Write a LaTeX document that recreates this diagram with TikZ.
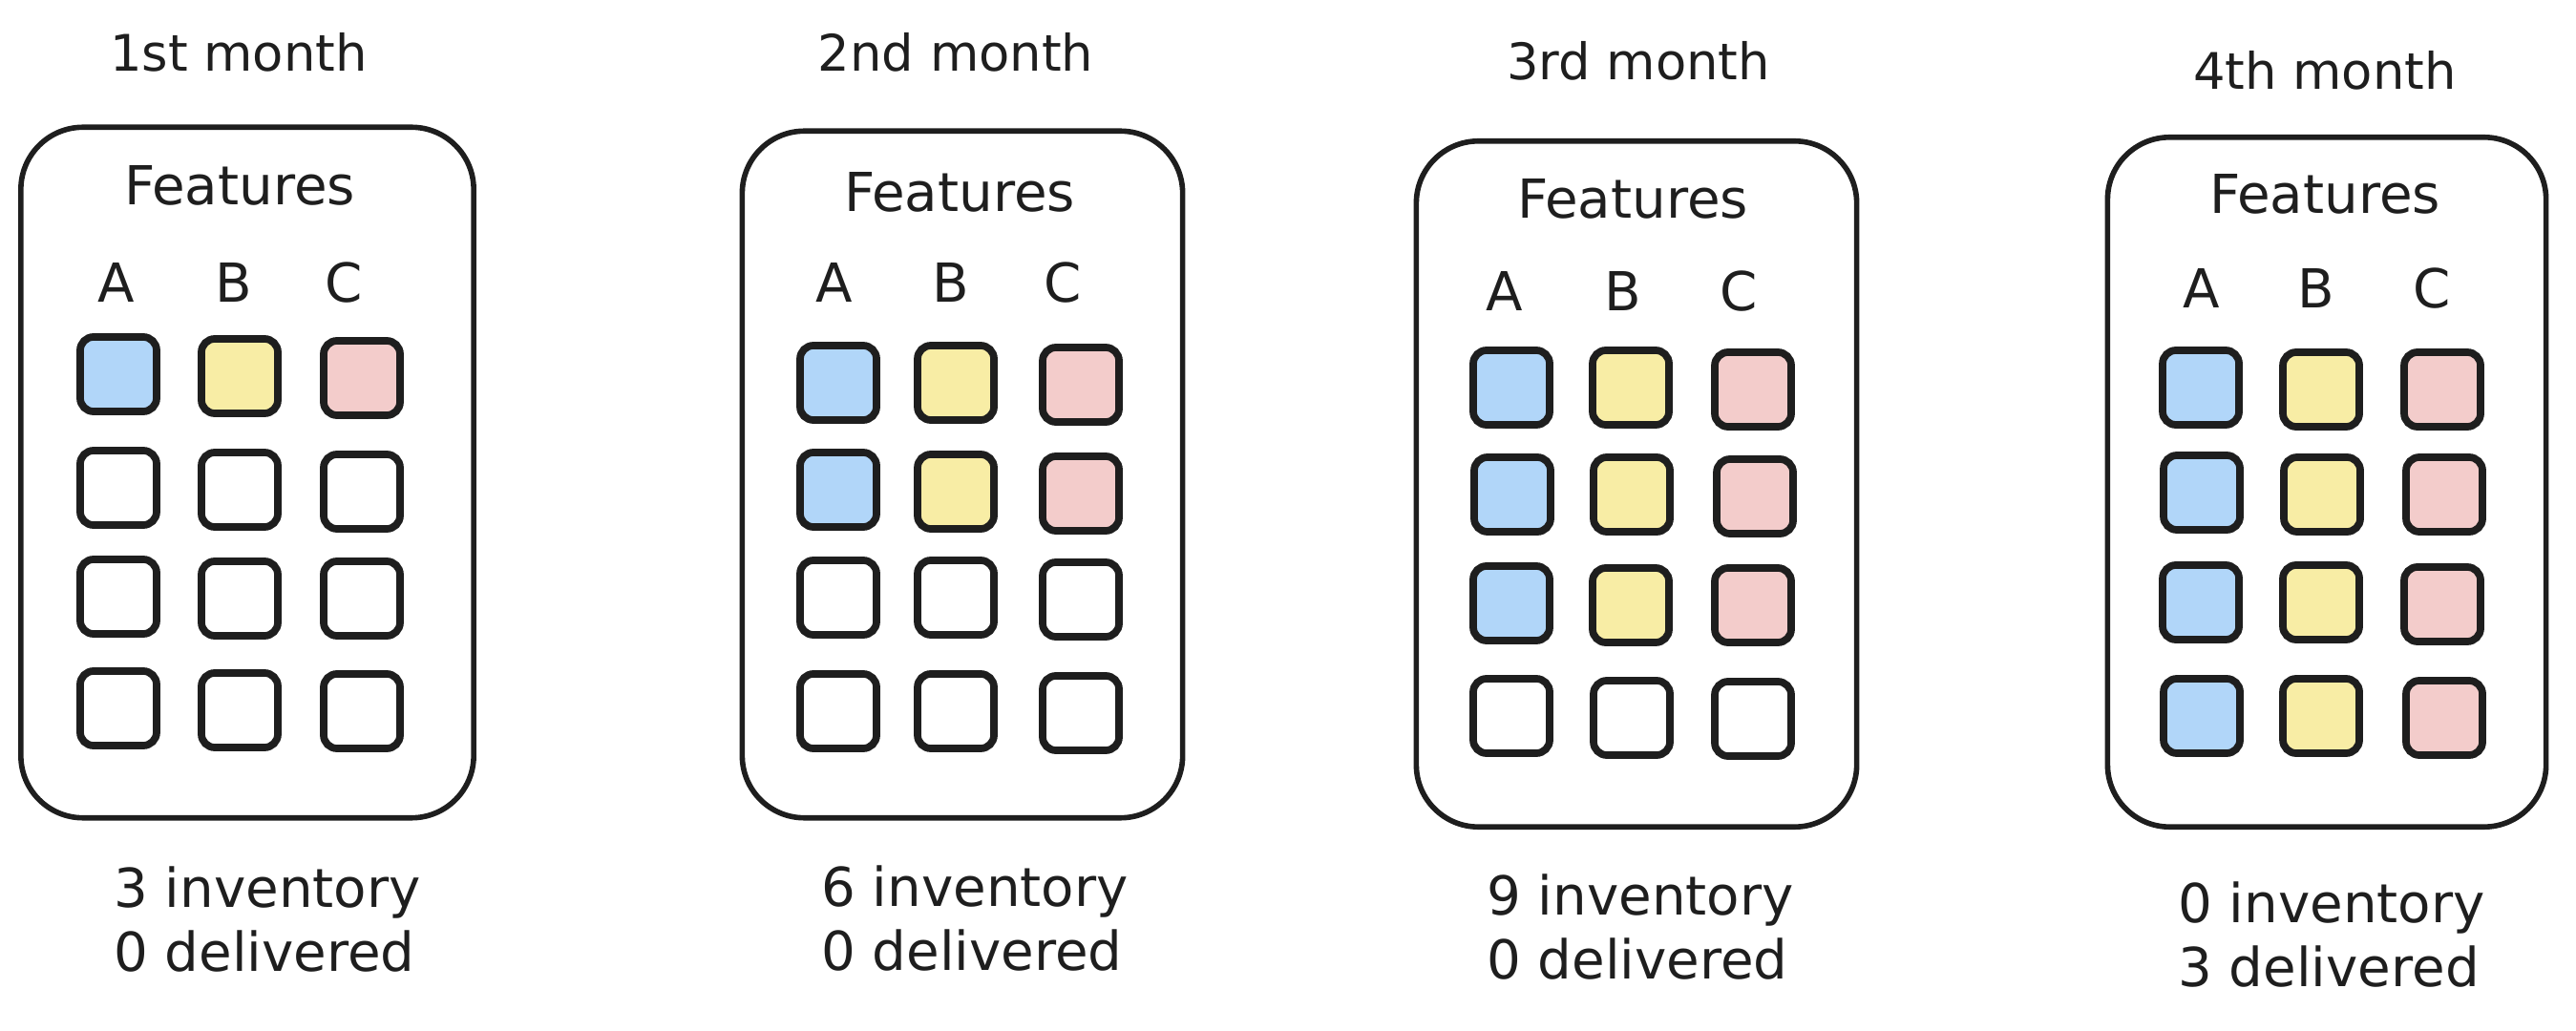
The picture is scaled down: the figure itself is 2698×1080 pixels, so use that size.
\documentclass[tikz,border=0pt]{standalone}
\usepackage{fontspec}
\setmainfont{DejaVu Sans}
\definecolor{ink}{HTML}{1E1E1E}
\definecolor{featA}{HTML}{B1D6F9}
\definecolor{featB}{HTML}{F8EDA5}
\definecolor{featC}{HTML}{F3CCCB}
\begin{document}
\begin{tikzpicture}[x=0.01cm,y=-0.01cm]
			\tikzstyle{every node}+=[inner sep=0pt, text=ink, font=\fontsize{16}{19}\selectfont]
			\tikzstyle{month}=[font=\fontsize{15}{18}\selectfont]
			\tikzstyle{panel}=[draw=ink, line width=1.6pt, rounded corners=0.65cm]
			\tikzstyle{cell}=[draw=ink, line width=2.2pt, rounded corners=0.14cm, minimum width=0.8cm, minimum height=0.78cm]
			\tikzstyle{cella}=[cell, fill=featA]
			\tikzstyle{cellb}=[cell, fill=featB]
			\tikzstyle{cellc}=[cell, fill=featC]
			\tikzstyle{tally}=[align=left]
			\useasboundingbox (0,0) rectangle (2698,1080);
			\node [month] (t1) at (250,55) {1st month};
			\node [panel, minimum width=4.74cm, minimum height=7.23cm] (box1) at (259,495) {};
			\node (f1) at (251,194) {Features};
			\node (l1a) at (122,296) {A};
			\node (l1b) at (245,296) {B};
			\node (l1c) at (360,296) {C};
			\node [cella] (c1a1) at (124,392) {};
			\node [cellb] (c1b1) at (251,394) {};
			\node [cellc] (c1c1) at (379,396) {};
			\node [cell] (c1a2) at (124,511) {};
			\node [cell] (c1b2) at (251,513) {};
			\node [cell] (c1c2) at (379,515) {};
			\node [cell] (c1a3) at (124,625) {};
			\node [cell] (c1b3) at (251,627) {};
			\node [cell] (c1c3) at (379,627) {};
			\node [cell] (c1a4) at (124,742) {};
			\node [cell] (c1b4) at (251,744) {};
			\node [cell] (c1c4) at (379,745) {};
			\node [tally] (n1) at (280,963) {3 inventory\\0 delivered};
			\node [month] (t2) at (1001,55) {2nd month};
			\node [panel, minimum width=4.61cm, minimum height=7.19cm] (box2) at (1008,497) {};
			\node (f2) at (1005,201) {Features};
			\node (l2a) at (874,296) {A};
			\node (l2b) at (996,296) {B};
			\node (l2c) at (1113,296) {C};
			\node [cella] (c2a1) at (878,401) {};
			\node [cellb] (c2b1) at (1001,401) {};
			\node [cellc] (c2c1) at (1132,403) {};
			\node [cella] (c2a2) at (878,513) {};
			\node [cellb] (c2b2) at (1001,515) {};
			\node [cellc] (c2c2) at (1132,517) {};
			\node [cell] (c2a3) at (878,626) {};
			\node [cell] (c2b3) at (1001,626) {};
			\node [cell] (c2c3) at (1132,628) {};
			\node [cell] (c2a4) at (878,745) {};
			\node [cell] (c2b4) at (1001,745) {};
			\node [cell] (c2c4) at (1132,747) {};
			\node [tally] (n2) at (1021,962) {6 inventory\\0 delivered};
			\node [month] (t3) at (1716,64) {3rd month};
			\node [panel, minimum width=4.61cm, minimum height=7.18cm] (box3) at (1714,507) {};
			\node (f3) at (1710,208) {Features};
			\node (l3a) at (1576,305) {A};
			\node (l3b) at (1700,305) {B};
			\node (l3c) at (1821,305) {C};
			\node [cella] (c3a1) at (1583,406) {};
			\node [cellb] (c3b1) at (1708,406) {};
			\node [cellc] (c3c1) at (1836,408) {};
			\node [cella] (c3a2) at (1584,518) {};
			\node [cellb] (c3b2) at (1709,518) {};
			\node [cellc] (c3c2) at (1838,520) {};
			\node [cella] (c3a3) at (1583,632) {};
			\node [cellb] (c3b3) at (1708,634) {};
			\node [cellc] (c3c3) at (1836,634) {};
			\node [cell] (c3a4) at (1583,750) {};
			\node [cell] (c3b4) at (1709,752) {};
			\node [cell] (c3c4) at (1836,753) {};
			\node [tally] (n3) at (1718,971) {9 inventory\\0 delivered};
			\node [month] (t4) at (2435,74) {4th month};
			\node [panel, minimum width=4.59cm, minimum height=7.22cm] (box4) at (2437,505) {};
			\node (f4) at (2435,203) {Features};
			\node (l4a) at (2306,302) {A};
			\node (l4b) at (2426,302) {B};
			\node (l4c) at (2547,302) {C};
			\node [cella] (c4a1) at (2305,406) {};
			\node [cellb] (c4b1) at (2431,408) {};
			\node [cellc] (c4c1) at (2558,408) {};
			\node [cella] (c4a2) at (2306,516) {};
			\node [cellb] (c4b2) at (2432,518) {};
			\node [cellc] (c4c2) at (2560,518) {};
			\node [cella] (c4a3) at (2305,631) {};
			\node [cellb] (c4b3) at (2431,631) {};
			\node [cellc] (c4c3) at (2558,633) {};
			\node [cella] (c4a4) at (2306,750) {};
			\node [cellb] (c4b4) at (2431,750) {};
			\node [cellc] (c4c4) at (2560,752) {};
			\node [tally] (n4) at (2442,979) {0 inventory\\3 delivered};
		\end{tikzpicture}
\end{document}
